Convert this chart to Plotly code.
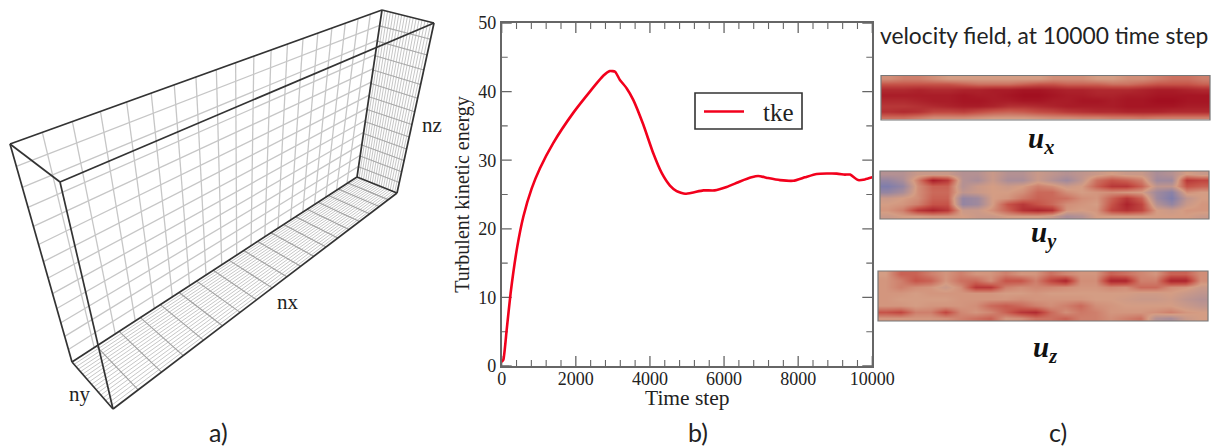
import plotly.graph_objects as go

# ---------- panel b data ----------
time_step = [0,45,135,240,420,585,810,1030,1390,1930,2380,2740,2920,3060,3190,3370,3550,3820,4090,4320,4540,4720,4950,5170,5440,5750,6070,6430,6740,6920,7190,7510,7870,8180,8500,9040,9260,9400,9620,9800,10000]
tke = [0.6,0.9,5.3,10.6,17.4,21.8,25.9,28.8,32.5,36.9,40.0,42.3,43.0,42.9,41.7,40.5,38.8,35.2,31.0,28.1,26.3,25.5,25.1,25.3,25.6,25.6,26.1,26.9,27.5,27.7,27.4,27.1,27.0,27.5,28.0,28.05,27.9,27.9,27.1,27.2,27.5]
x_major = list(range(0, 10001, 2000))
x_minor = [t for t in range(0, 10001, 400) if t % 2000]
y_major = list(range(0, 51, 10))
y_minor = [5, 15, 25, 35, 45]
X_RANGE = [0, 10000]
Y_RANGE = [0, 50]

# ---------- panel a: box corners ----------
A = (10, 144); B = (60, 182); C = (382, 10); D = (434, 23)
E = (72, 362); F = (113, 409); G = (357, 177); H = (397, 193)
NX_CELLS = 19; NZ_CELLS = 13; NY_CELLS = 18

# ---------- panel c: velocity fields (rows top to bottom) ----------
ux = [
 [.1,.2,.2,.1,.0,.0,.0,.0,.0,.0,.0,.1,.1,.1,.0,.0,.1,.1,.2,.3,.3,.2],
 [.5,.5,.5,.5,.5,.4,.3,.3,.3,.4,.5,.5,.4,.4,.4,.3,.3,.4,.5,.5,.5,.4],
 [.8,.8,.85,.8,.8,.85,.85,.9,.9,.95,.95,.9,.85,.85,.8,.8,.8,.85,.9,.9,.85,.8],
 [.9,.9,.9,.9,.9,.95,.9,.9,.95,1,1,.95,.9,.9,.85,.85,.9,.9,.95,.95,.95,.95],
 [.8,.8,.85,.9,.9,.95,.95,.9,.9,.95,.95,.9,.9,.95,.95,.9,.95,.95,1,1,.95,.95],
 [.7,.7,.75,.8,.85,.9,.9,.85,.75,.75,.8,.85,.9,.9,.9,.9,.95,.95,.95,.95,.9,.9],
 [.75,.8,.75,.6,.6,.65,.55,.45,.4,.45,.55,.6,.7,.75,.8,.8,.85,.85,.85,.8,.8,.8],
 [.3,.3,.2,.1,.1,.1,.05,0,0,0,.05,.1,.1,.15,.15,.2,.2,.25,.2,.2,.2,.2],
]
uy = [
 [-.3,-.3,-.1,-.1,-.1,-.3,-.3,-.1,-.3,-.3,-.1,-.2,-.3,-.2,-.1,0,-.1,-.1,-.4,-.3,0,-.1],
 [-.6,-.4,.2,.9,.7,-.3,-.4,-.1,-.4,-.4,-.1,-.3,-.5,-.2,.3,.5,.4,.2,-.5,-.5,.7,.6],
 [-.8,-.6,.1,.4,.4,-.3,-.1,0,-.1,0,.2,.1,-.1,0,.4,.7,.7,.4,-.2,-.2,.5,.4],
 [-.6,-.4,.1,.35,.35,-.2,-.1,0,0,.1,.35,.35,.1,0,.05,.1,.05,0,-.5,-.7,.1,0],
 [-.1,0,.1,.4,.4,-.6,-.5,0,.05,.25,.4,.35,.3,.1,.05,.4,.7,.4,-.5,-.8,-.2,0],
 [0,.05,.2,.5,.5,-.6,-.5,0,.5,.7,.5,.35,.1,.05,0,.5,.85,.6,-.3,-.6,-.1,.05],
 [.05,.2,.7,.85,.7,-.1,-.1,.1,.4,.75,.85,.75,.05,0,.05,.6,.75,.6,0,-.1,.05,.05],
 [-.1,0,0,.05,.05,0,-.1,-.1,0,0,0,-.1,-.4,-.3,0,0,0,0,0,0,0,-.1],
]
uz = [
 [0,.4,.4,.2,.05,.2,.05,.05,.2,.05,.05,.3,.15,.05,.05,.4,.3,.15,.05,.4,.4,.1],
 [.05,.2,.5,.4,.05,.3,.35,.1,.5,.5,.2,.6,.85,.1,.1,.85,.85,.2,.2,.85,.85,.1],
 [.05,.2,.1,.05,-.1,.1,.7,.7,.2,.1,.15,.15,.1,.05,.05,.15,.1,.35,.35,.1,.05,-.1],
 [.05,.05,0,.05,.05,.05,.05,.05,0,0,.05,0,0,0,0,0,0,-.05,-.05,0,-.1,-.2],
 [.05,0,0,0,0,.05,.05,.05,.05,.1,.05,.05,.05,.05,0,0,-.05,-.1,-.1,-.05,-.2,-.3],
 [.05,.05,0,.05,.05,.05,.1,.35,.45,.35,.2,.1,.2,.35,.1,.05,0,0,0,0,-.1,-.2],
 [.5,.6,.2,.2,.6,.15,.05,.15,.4,.7,.8,.35,.1,.25,.2,.05,.05,.05,.1,.2,.05,0],
 [.05,.05,.05,.05,.1,.2,.3,.4,.05,.1,.3,.3,.4,.2,.2,.1,.2,.3,-.3,-.4,-.1,0],
]

W, H_PX = 1215, 448
PLOT_W, PLOT_H = 370.6, 343.0   # size of panel b's plot area in pixels


def homography(p00, p10, p11, p01):
    x0, y0 = p00; x1, y1 = p10; x2, y2 = p11; x3, y3 = p01
    dx1, dx2, sx = x1 - x2, x3 - x2, x0 - x1 + x2 - x3
    dy1, dy2, sy = y1 - y2, y3 - y2, y0 - y1 + y2 - y3
    den = dx1 * dy2 - dx2 * dy1
    g = (sx * dy2 - dx2 * sy) / den
    h = (dx1 * sy - sx * dy1) / den
    a, b, c = x1 - x0 + g * x1, x3 - x0 + h * x3, x0
    d, e, f = y1 - y0 + g * y1, y3 - y0 + h * y3, y0

    def m(u, v):
        w = g * u + h * v + 1
        return (a * u + b * v + c) / w, (d * u + e * v + f) / w
    return m


def grid_lines(quad, nu, nv):
    """lines at constant u (nu cells) and constant v (nv cells) on a quad"""
    m = homography(*quad)
    xs, ys = [], []
    if nu:
        for i in range(1, nu):
            for p in (m(i / nu, 0), m(i / nu, 1)):
                xs.append(p[0]); ys.append(p[1])
            xs.append(None); ys.append(None)
    if nv:
        for j in range(1, nv):
            for p in (m(0, j / nv), m(1, j / nv)):
                xs.append(p[0]); ys.append(p[1])
            xs.append(None); ys.append(None)
    return xs, ys


def add_lines(fig, xy, color, width):
    fig.add_trace(go.Scatter(x=xy[0], y=xy[1], mode="lines", showlegend=False, hoverinfo="skip",
                             line=dict(color=color, width=width), xaxis="x", yaxis="y"))


def tick_marks(xvals, yvals, px_len):
    """inside tick marks on all four sides of panel b, in data units"""
    dy = px_len * (Y_RANGE[1] - Y_RANGE[0]) / PLOT_H
    dx = px_len * (X_RANGE[1] - X_RANGE[0]) / PLOT_W
    xs, ys = [], []
    for t in xvals:
        xs += [t, t, None, t, t, None]
        ys += [Y_RANGE[0], Y_RANGE[0] + dy, None, Y_RANGE[1], Y_RANGE[1] - dy, None]
    for v in yvals:
        xs += [X_RANGE[0], X_RANGE[0] + dx, None, X_RANGE[1], X_RANGE[1] - dx, None]
        ys += [v, v, None, v, v, None]
    return xs, ys


fig = go.Figure()

# panel a
coarse = "#c6c6c6"
dense = "#a0a0a0"
add_lines(fig, grid_lines((A, C, G, E), NX_CELLS, NZ_CELLS), coarse, 1.3)       # back wall
add_lines(fig, grid_lines((C, D, H, G), NY_CELLS, 0), dense, 0.6)               # right wall fine
add_lines(fig, grid_lines((C, D, H, G), 0, NZ_CELLS), "#a8a8a8", 1.1)
add_lines(fig, grid_lines((E, F, H, G), NY_CELLS, 0), dense, 0.6)               # floor fine
add_lines(fig, grid_lines((E, F, H, G), 0, NX_CELLS), "#a0a0a0", 1.1)
edges = [(A, C), (B, D), (A, B), (C, D), (A, E), (B, F), (C, G), (D, H), (E, F), (F, H), (E, G), (G, H)]
ex, ey = [], []
for p, q in edges:
    ex += [p[0], q[0], None]; ey += [p[1], q[1], None]
add_lines(fig, (ex, ey), "#333333", 1.7)

# panel b
for vals, length, width in (((x_major, y_major), 10, 1.3), ((x_minor, y_minor), 6, 1.1)):
    mx, my = tick_marks(vals[0], vals[1], length)
    fig.add_trace(go.Scatter(x=mx, y=my, mode="lines", showlegend=False, hoverinfo="skip",
                             line=dict(color="#666666", width=width), xaxis="x2", yaxis="y2"))
fig.add_trace(go.Scatter(x=time_step, y=tke, mode="lines", name="tke", showlegend=False,
                         line=dict(color="#f2001c", width=2.6, shape="spline", smoothing=0.5),
                         xaxis="x2", yaxis="y2"))

# panel c
scale = [[0, "#6a75b5"], [0.5, "#d49d84"], [0.75, "#c65348"], [1, "#a20f20"]]
for k, z in enumerate([ux, uy, uz]):
    fig.add_trace(go.Heatmap(z=z, zmin=-1, zmax=1, colorscale=scale, showscale=False, zsmooth="best",
                             hoverinfo="skip", xaxis=f"x{k+3}", yaxis=f"y{k+3}"))

serif = "Liberation Serif"
frame = dict(showline=True, linecolor="#666666", linewidth=1.5, mirror=True, showgrid=False, zeroline=False, ticks="",
             tickfont=dict(family=serif, size=18, color="#222222"))
layout = dict(
    width=W, height=H_PX, margin=dict(l=0, r=0, t=0, b=0, pad=0, autoexpand=False),
    paper_bgcolor="white", plot_bgcolor="rgba(0,0,0,0)", showlegend=False,
    xaxis=dict(domain=[0, 1], range=[0, W], visible=False, fixedrange=True),
    yaxis=dict(domain=[0, 1], range=[H_PX, 0], visible=False, fixedrange=True),
    xaxis2=dict(domain=[501.7 / W, 872.3 / W], range=X_RANGE, tickvals=x_major, ticktext=[str(t) for t in x_major],
                anchor="y2", ticklabelstandoff=-4, **frame),
    yaxis2=dict(domain=[1 - 366 / H_PX, 1 - 23 / H_PX], range=Y_RANGE, tickvals=y_major, ticktext=[str(v) for v in y_major],
                anchor="x2",
                title=dict(text="Turbulent kinetic energy", font=dict(family=serif, size=20, color="#222222"), standoff=3),
                **frame),
    shapes=[
        dict(type="rect", xref="x", yref="y", x0=695, x1=802, y0=93, y1=129, line=dict(color="#333333", width=1.6), fillcolor="white"),
        dict(type="line", xref="x", yref="y", x0=704, x1=744, y0=111.5, y1=111.5, line=dict(color="#f2001c", width=2.6)),
    ],
)

panels = [(881, 1210, 75.5, 120), (880, 1209, 171, 219), (878, 1208, 271, 321)]
for k, (x0, x1, y0, y1) in enumerate(panels):
    layout[f"xaxis{k+3}"] = dict(domain=[x0 / W, x1 / W], anchor=f"y{k+3}", visible=False)
    layout[f"yaxis{k+3}"] = dict(domain=[1 - y1 / H_PX, 1 - y0 / H_PX], anchor=f"x{k+3}", range=[7.5, -0.5], visible=False)
    layout["shapes"].append(dict(type="rect", xref=f"x{k+3} domain", yref=f"y{k+3} domain", x0=0, x1=1, y0=0, y1=1,
                                 line=dict(color="#777777", width=1.2)))
fig.update_layout(**layout)


def label(text, x, y, family, size, color="#222222", **font):
    fig.add_annotation(text=text, x=x, y=y, xref="x", yref="y", showarrow=False,
                       font=dict(family=family, size=size, color=color, **font))


label("Time step", 687, 398, serif, 21.5)
label("tke", 778, 112, serif, 25)
label("nx", 288, 302, serif, 21)
label("ny", 80, 394, serif, 21)
label("nz", 432, 125, serif, 21)
sans = "Lato"
label("a)", 218, 432, sans, 25)
label("b)", 698, 432, sans, 25)
label("c)", 1058, 432, sans, 25)
label("velocity field, at 10000 time step", 1044, 35, sans, 22.8)
label("u<sub>x</sub>", 1041, 140, serif, 29, "#111111", weight=700, style="italic")
label("u<sub>y</sub>", 1044, 234, serif, 29, "#111111", weight=700, style="italic")
label("u<sub>z</sub>", 1045, 349, serif, 29, "#111111", weight=700, style="italic")

fig.write_html("out.html", config=dict(displayModeBar=False),
               post_script="document.body.style.margin='0';document.body.style.overflow='hidden';")
